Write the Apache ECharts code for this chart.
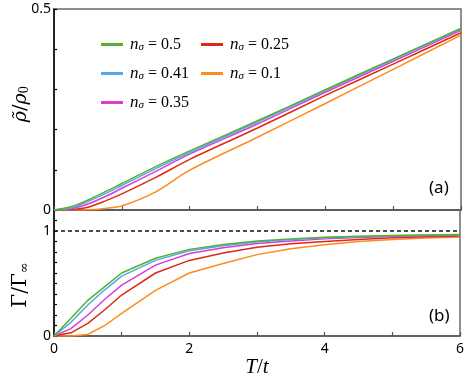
<!DOCTYPE html>
<html><head><meta charset="utf-8">
<script src="https://cdn.jsdelivr.net/npm/echarts@6/dist/echarts.min.js"></script>
<style>html,body{margin:0;padding:0;background:#fff}#c{width:467px;height:389px}</style>
</head><body><div id="c"></div>
<script>
// ---- data ----
const names = ['0.5','0.41','0.35','0.25','0.1'];
const colors = ['#52b230','#58a6ee','#d53fd6','#dc2a12','#ff8a1e'];
// panel (a): rho~/rho0 vs T/t
const Ta = [0,0.25,0.5,0.75,1,1.5,2,3,4,5,6];
const rho_05  = [0,0.008,0.025,0.045,0.066,0.108,0.147,0.222,0.299,0.376,0.452];
const rho_041 = [0,0.005,0.021,0.040,0.061,0.103,0.143,0.219,0.297,0.374,0.450];
const rho_035 = [0,0.003,0.015,0.033,0.054,0.096,0.139,0.214,0.293,0.370,0.447];
const rho_025 = [0,0.001,0.007,0.022,0.040,0.081,0.126,0.204,0.285,0.363,0.441];
const rho_01  = [0,0,0.0005,0.004,0.010,0.045,0.099,0.181,0.265,0.350,0.435];
// panel (b): Gamma/Gamma_inf vs T/t
const Tb = [0,0.25,0.5,0.75,1,1.5,2,2.5,3,3.5,4,4.5,5,5.5,6];
const g_05  = [0,0.17,0.34,0.47,0.60,0.74,0.825,0.872,0.905,0.925,0.940,0.950,0.958,0.963,0.967];
const g_041 = [0,0.13,0.295,0.44,0.57,0.72,0.812,0.860,0.895,0.918,0.935,0.946,0.954,0.960,0.964];
const g_035 = [0,0.07,0.20,0.35,0.485,0.675,0.785,0.840,0.880,0.905,0.925,0.938,0.948,0.955,0.960];
const g_025 = [0,0.03,0.12,0.25,0.39,0.60,0.72,0.790,0.845,0.878,0.900,0.920,0.935,0.945,0.953];
const g_01  = [0,0,0.015,0.10,0.215,0.435,0.60,0.690,0.775,0.830,0.870,0.900,0.920,0.933,0.943];
const xTicks = [0,2,4,6];

const rhoSets = [rho_05,rho_041,rho_035,rho_025,rho_01];
const gSets = [g_05,g_041,g_035,g_025,g_01];
const zip = (xs,ys)=>xs.map((x,i)=>[x,ys[i]]);

const chart = echarts.init(document.getElementById('c'), null, {renderer:'canvas'});
const serif = 'Liberation Serif';
const tserif = 'DejaVu Serif';
const sans = 'Noto Sans';
const near = (v,t)=>Math.abs(v-t)<1e-6;

function xAx(gi, showLabels){
  return {type:'value', gridIndex:gi, min:0, max:6, interval:1,
    axisLine:{show:true, lineStyle:{color:'#555', width:1.5}},
    axisTick:{show:true, inside:true, length:4, lineStyle:{color:'#555', width:1.2}},
    axisLabel:{show:showLabels, margin:6, color:'#000', fontFamily:sans, fontSize:14,
      formatter:v=>xTicks.some(t=>near(v,t))?String(Math.round(v)):''},
    splitLine:{show:false}};
}
function yAx(gi, max, labelVals){
  return {type:'value', gridIndex:gi, min:0, max:max, interval:0.1,
    axisLine:{show:true, lineStyle:{color:'#000', width:1.5}},
    axisTick:{show:true, inside:true, length:3, lineStyle:{color:'#000', width:1.2}},
    axisLabel:{show:true, margin:3, color:'#000', fontFamily:sans, fontSize:14,
      formatter:v=>{for(const t of labelVals){if(near(v,t))return String(t);}return '';}},
    splitLine:{show:false}};
}

const series = [];
names.forEach((n,i)=>{
  series.push({name:n, type:'line', xAxisIndex:0, yAxisIndex:0, data:zip(Ta,rhoSets[i]),
    showSymbol:false, smooth:0.3, lineStyle:{color:colors[i], width:1.5}, itemStyle:{color:colors[i]}, z:10-i});
  series.push({name:n, type:'line', xAxisIndex:1, yAxisIndex:1, data:zip(Tb,gSets[i]),
    showSymbol:false, smooth:false, lineStyle:{color:colors[i], width:1.5}, itemStyle:{color:colors[i]}, z:10-i});
});
// dashed reference line at 1
series.push({name:'ref', type:'line', xAxisIndex:1, yAxisIndex:1, data:[[0,1],[6,1]],
  showSymbol:false, lineStyle:{color:'#111', width:1.3, type:[4,3]}, silent:true});

const legendRich = {
  n:{fontFamily:serif, fontStyle:'italic', fontSize:17, color:'#000'},
  s:{fontFamily:serif, fontStyle:'italic', fontSize:11, color:'#000', verticalAlign:'bottom', padding:[6,0,0,0]},
  t:{fontFamily:serif, fontSize:16, color:'#000'}
};
function legendCfg(data,left){
  return {data:data, orient:'vertical', left:left, top:36, padding:0, itemGap:12, itemWidth:22, itemHeight:3,
    icon:'rect', selectedMode:false,
    textStyle:{rich:legendRich, padding:[0,0,0,2]},
    formatter:n=>'{n|n}{s|σ}{t| = '+n+'}'};
}

chart.setOption({
  animation:false,
  backgroundColor:'#fff',
  grid:[
    {left:54, top:9, width:407, height:201, show:true, borderColor:'#6a6a6a', borderWidth:1.5},
    {left:54, top:210, width:407, height:126, show:true, borderColor:'#6a6a6a', borderWidth:1.5}
  ],
  xAxis:[xAx(0,false), xAx(1,true)],
  yAxis:[yAx(0,0.5,[0,0.5]), yAx(1,1.2,[0,1])],
  legend:[legendCfg(['0.5','0.41','0.35'],101), legendCfg(['0.25','0.1'],201)],
  series:series,
  graphic:[
    {type:'text', left:429, top:180, style:{text:'(a)', font:'17px "Noto Sans"', fill:'#000'}},
    {type:'text', left:429, top:308, style:{text:'(b)', font:'17px "Noto Sans"', fill:'#000'}},
    {type:'text', x:257, y:367, style:{text:'{i|T}{r|/}{i|t}', align:'center', verticalAlign:'middle',
      rich:{i:{fontFamily:serif, fontStyle:'italic', fontSize:21, fill:'#000'}, r:{fontFamily:serif, fontSize:21, fill:'#000'}}}},
    {type:'text', x:21, y:104, rotation:Math.PI/2, style:{text:'{i|ρ\u0303}{r|/}{i|ρ}{s|0}', align:'center', verticalAlign:'middle',
      rich:{i:{fontFamily:tserif, fontStyle:'italic', fontSize:19, fill:'#000'}, r:{fontFamily:tserif, fontSize:19, fill:'#000'},
            s:{fontFamily:tserif, fontSize:12, fill:'#000', padding:[8,0,0,0]}}}},
    {type:'text', x:21, y:285, rotation:Math.PI/2, style:{text:'{r|Γ/Γ}{s|∞}', align:'center', verticalAlign:'middle',
      rich:{r:{fontFamily:tserif, fontSize:20, fill:'#000'}, s:{fontFamily:tserif, fontSize:13, fill:'#000', padding:[8,0,0,0]}}}}
  ]
});
</script></body></html>
